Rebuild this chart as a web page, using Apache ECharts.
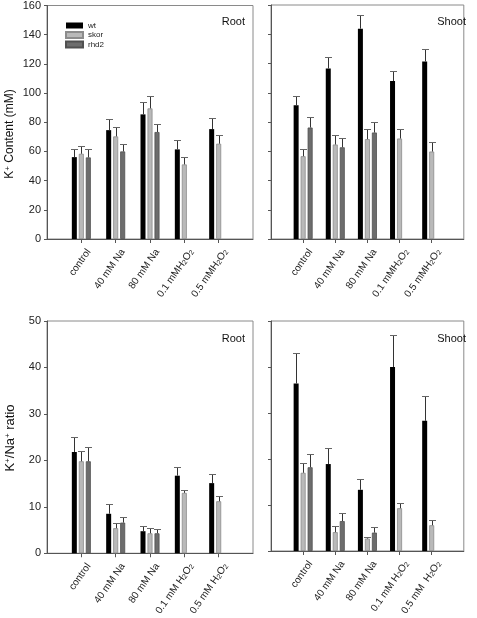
<!DOCTYPE html>
<html><head><meta charset="utf-8">
<script src="https://cdn.jsdelivr.net/npm/echarts@6/dist/echarts.min.js"></script>
<style>html,body{margin:0;padding:0;background:#fff}#c{width:477px;height:618px}</style>
</head><body><div id="c"></div>
<script>
// ---------- data ----------
const genotypes = ['wt', 'skor', 'rhd2'];
const topLabels = ['control', '40 mM Na', '80 mM Na', '0.1 mMH2O2', '0.5 mMH2O2'];
const bottomLeftLabels = ['control', '40 mM Na', '80 mM Na', '0.1 mM H2O2', '0.5 mM H2O2'];
const bottomRightLabels = ['control', '40 mM Na', '80 mM Na', '0.1 mM H2O2', '0.5 mM  H2O2'];

// K+ content (mM), Root
const rootK_wt = [56.1, 74.6, 85.4, 61.4, 75.3];
const rootK_wt_err = [5.7, 7.3, 8.4, 6.1, 7.8];
const rootK_skor = [58.4, 70.3, 89.5, 51.1, 65.3];
const rootK_skor_err = [5.5, 6.6, 8.7, 5.0, 6.1];
const rootK_rhd2 = [55.9, 60.0, 73.3, null, null];
const rootK_rhd2_err = [5.7, 5.3, 5.7, null, null];
// K+ content (mM), Shoot
const shootK_wt = [91.5, 116.6, 143.8, 108.0, 121.4];
const shootK_wt_err = [6.2, 7.6, 9.1, 7.0, 8.2];
const shootK_skor = [56.6, 64.6, 68.3, 68.7, 59.8];
const shootK_skor_err = [5.2, 6.2, 6.8, 6.2, 6.6];
const shootK_rhd2 = [76.2, 62.7, 72.8, null, null];
const shootK_rhd2_err = [7.3, 6.4, 7.3, null, null];
// K+/Na+ ratio, Root
const rootR_wt = [21.8, 8.5, 4.75, 16.7, 15.1];
const rootR_wt_err = [3.2, 2.1, 1.15, 1.8, 2.0];
const rootR_skor = [19.8, 5.4, 4.3, 13.0, 11.2];
const rootR_skor_err = [2.2, 1.1, 1.1, 0.7, 1.2];
const rootR_rhd2 = [19.8, 6.6, 4.3, null, null];
const rootR_rhd2_err = [3.0, 1.3, 0.9, null, null];
// K+/Na+ ratio, Shoot
const shootR_wt = [36.4, 18.9, 13.3, 40.0, 28.3];
const shootR_wt_err = [6.6, 3.5, 2.4, 6.9, 5.4];
const shootR_skor = [17.0, 4.1, 2.7, 9.3, 5.6];
const shootR_skor_err = [2.1, 1.4, 0.3, 1.1, 1.1];
const shootR_rhd2 = [18.2, 6.5, 4.0, null, null];
const shootR_rhd2_err = [2.9, 1.7, 1.2, null, null];

const yTop = {min: 0, max: 160, interval: 20};
const yBottom = {min: 0, max: 50, interval: 10};
const yTitleTop = '{a|K}{s|+}{a| Content (mM)}';
const yTitleBottom = '{a|K}{s|+}{a|/Na}{s|+}{a| ratio}';

// ---------- build ----------
const FONT = "'Liberation Sans', Arial, sans-serif";
const colors = {wt: '#000000', skor: '#b9b9b9', rhd2: '#6d6d6d'};
const borders = {wt: '#000000', skor: '#8c8c8c', rhd2: '#505050'};
const offsets = {wt: -7, skor: 0, rhd2: 7};

const panels = [
  {labels: topLabels, vals: {wt: rootK_wt, skor: rootK_skor, rhd2: rootK_rhd2}, errs: {wt: rootK_wt_err, skor: rootK_skor_err, rhd2: rootK_rhd2_err}, y: yTop, showY: true},
  {labels: topLabels, vals: {wt: shootK_wt, skor: shootK_skor, rhd2: shootK_rhd2}, errs: {wt: shootK_wt_err, skor: shootK_skor_err, rhd2: shootK_rhd2_err}, y: yTop, showY: false},
  {labels: bottomLeftLabels, vals: {wt: rootR_wt, skor: rootR_skor, rhd2: rootR_rhd2}, errs: {wt: rootR_wt_err, skor: rootR_skor_err, rhd2: rootR_rhd2_err}, y: yBottom, showY: true},
  {labels: bottomRightLabels, vals: {wt: shootR_wt, skor: shootR_skor, rhd2: shootR_rhd2}, errs: {wt: shootR_wt_err, skor: shootR_skor_err, rhd2: shootR_rhd2_err}, y: yBottom, showY: false}
];

const gridPos = [
  {left: 47, top: 5, width: 206, height: 234},
  {left: 271, top: 5, width: 205, height: 234},
  {left: 47, top: 321, width: 206, height: 235},
  {left: 271, top: 321, width: 205, height: 235}
];

function subFmt(v) {
  return v.replace('H2O2', '{n|H}{s|2}{n|O}{s|2}');
}

const grids = [], xAxes = [], yAxes = [], series = [];
panels.forEach((p, pi) => {
  grids.push(Object.assign({show: true, borderColor: '#8a8a8a', borderWidth: 1, containLabel: false}, gridPos[pi]));
  xAxes.push({
    type: 'category', gridIndex: pi, boundaryGap: false,
    data: [' '].concat(p.labels, ['  ']),
    axisLine: {lineStyle: {color: '#555', width: 1}},
    axisTick: {length: 4, lineStyle: {color: '#555'}, interval: (i) => i > 0 && i < 6},
    axisLabel: {
      interval: 0, rotate: 55, fontSize: 10, color: '#222', fontFamily: FONT, margin: 6,
      verticalAlign: 'top', padding: [4, 0, 0, 0],
      formatter: subFmt,
      rich: {
        n: {fontSize: 10, color: '#222', fontFamily: FONT},
        s: {fontSize: 7, color: '#222', fontFamily: FONT, verticalAlign: 'bottom', lineHeight: 4}
      }
    },
    splitLine: {show: false}
  });
  yAxes.push({
    type: 'value', gridIndex: pi, min: p.y.min, max: p.y.max, interval: p.y.interval,
    axisLine: {show: true, lineStyle: {color: '#555', width: 1}},
    axisTick: {show: true, length: 3, lineStyle: {color: '#555'}},
    axisLabel: {show: p.showY, fontSize: 11, color: '#222', fontFamily: FONT, margin: 6},
    splitLine: {show: false}
  });
  genotypes.forEach(g => {
    const padded = [null].concat(p.vals[g], [null]);
    series.push({
      type: 'bar', name: g, xAxisIndex: pi, yAxisIndex: pi,
      data: padded, barWidth: 5, barGap: '40%',
      itemStyle: {color: colors[g], borderColor: borders[g], borderWidth: g === 'wt' ? 0 : 0.8},
      silent: true, z: 2
    });
    const errData = [];
    p.vals[g].forEach((v, i) => {
      if (v != null && p.errs[g][i] != null) errData.push([i + 1, v, v + p.errs[g][i]]);
    });
    const off = offsets[g];
    series.push({
      type: 'custom', name: g + '_err', xAxisIndex: pi, yAxisIndex: pi, z: 5, silent: true,
      data: errData,
      renderItem: function (params, api) {
        const b = api.coord([api.value(0), api.value(1)]);
        const t = api.coord([api.value(0), api.value(2)]);
        const cx = Math.round(b[0] + off) + 0.5;
        const ty = Math.round(t[1]) + 0.5;
        return {type: 'group', children: [
          {type: 'line', shape: {x1: cx, y1: b[1], x2: cx, y2: ty}, style: {stroke: '#333', lineWidth: 1}},
          {type: 'line', shape: {x1: cx - 3.5, y1: ty, x2: cx + 3.5, y2: ty}, style: {stroke: '#666', lineWidth: 1}}
        ]};
      }
    });
  });
});

const panelTitle = (txt, x, y) => ({type: 'text', x: x, y: y, silent: true, style: {text: txt, fill: '#111', font: '11px ' + FONT, align: 'right', verticalAlign: 'middle'}});
const yTitle = (txt, x, y, fs) => ({
  type: 'text', x: x, y: y, rotation: Math.PI / 2, silent: true,
  style: {
    text: txt, align: 'center', verticalAlign: 'middle', fill: '#111',
    rich: {
      a: {fontSize: fs, fontFamily: FONT, fill: '#111', color: '#111'},
      s: {fontSize: 8, fontFamily: FONT, fill: '#111', color: '#111', verticalAlign: 'top', lineHeight: 10}
    }
  }
});

const option = {
  animation: false,
  backgroundColor: '#fff',
  grid: grids, xAxis: xAxes, yAxis: yAxes, series: series,
  legend: {
    data: genotypes, orient: 'vertical', left: 65, top: 21.5, padding: 0,
    itemWidth: 17, itemHeight: 6, itemGap: 1.5, icon: 'rect',
    textStyle: {fontSize: 8, color: '#222', fontFamily: FONT}
  },
  graphic: [
    panelTitle('Root', 245, 22),
    panelTitle('Shoot', 466, 22),
    panelTitle('Root', 245, 339),
    panelTitle('Shoot', 466, 339),
    yTitle(yTitleTop, 10, 134, 12),
    yTitle(yTitleBottom, 10, 438, 13)
  ]
};
const chart = echarts.init(document.getElementById('c'), null, {renderer: 'canvas'});
chart.setOption(option);
</script></body></html>
